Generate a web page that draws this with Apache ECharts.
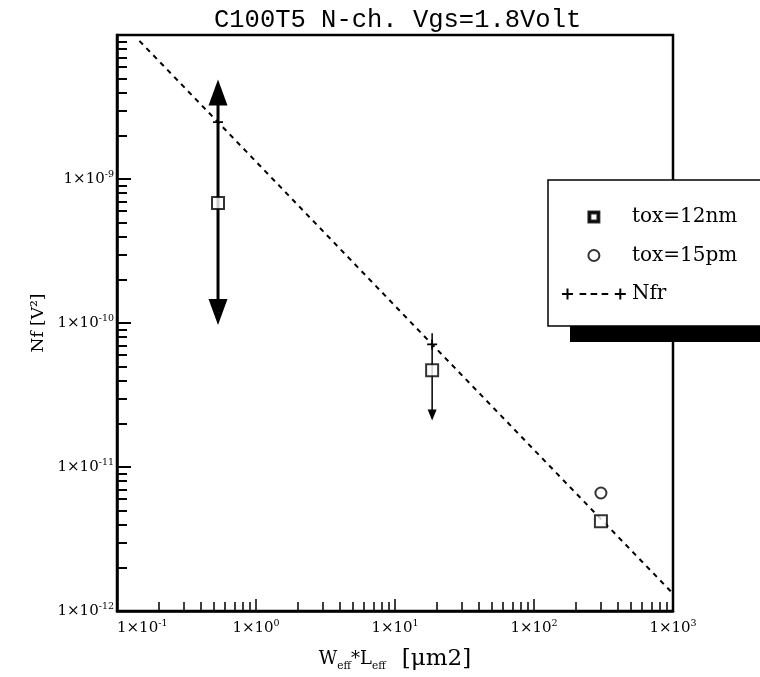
<!DOCTYPE html>
<html>
<head>
<meta charset="utf-8">
<script src="https://cdn.jsdelivr.net/npm/echarts@6/dist/echarts.min.js"></script>
<style>
  html, body { margin: 0; padding: 0; background: #fff; }
  #chart { width: 760px; height: 677px; }
</style>
</head>
<body>
<div id="chart"></div>
<script>
// Axis decades and their labels (mantissa × 10^exponent)
const xTickExp = [-1, 0, 1, 2, 3];
const xTickSup = ['-1', '0', '1', '2', '3'];
const yTickExp = [-12, -11, -10, -9];
const yTickSup = ['-12', '-11', '-10', '-9'];
const tickBase = '1×10';
const mantissas = [2, 3, 4, 5, 6, 7, 8, 9];

// Measured noise, tox = 12 nm
const tox12X = [0.533, 18.5, 303];
const tox12Y = [6.8e-10, 4.7e-11, 4.2e-12];

// Measured noise, tox = 15 nm
const tox15X = [303];
const tox15Y = [6.6e-12];

// Nfr reference line (1/area scaling)
const nfrX = [0.145, 0.533, 18.5, 1000];
const nfrY = [9.1e-9, 2.48e-9, 7.1e-11, 1.32e-12];
const nfrMarked = [false, true, true, false];

// Spread of the measured values (vertical arrows)
const errX = [0.533, 18.5];
const errLow = [9.7e-11, 2.1e-11];
const errHigh = [4.9e-9, 8.5e-11];

// Arrow appearance per spread bar
const arrowStyles = [
  { width: 3, headLen: 26, headHalf: 9.5, headHigh: true, headLow: true },
  { width: 1.5, headLen: 11, headHalf: 4.5, headHigh: false, headLow: true }
];

const serif = 'DejaVu Serif';
const plusPath = 'path://M0,4.1h10v1.8h-10zM4.1,0h1.8v10h-1.8z';
const squareIcon = 'path://M0,0h10v10h-10zM1.8,1.8v6.4h6.4v-6.4z';
const plusDashIcon = 'path://M0,4.1h10v1.8h-10zM4.1,0h1.8v10h-1.8z' +
  'M16,4.1h6v1.8h-6zM26,4.1h6v1.8h-6zM36,4.1h6v1.8h-6z' +
  'M48,4.1h10v1.8h-10zM52.1,0h1.8v10h-1.8z';

function minorTicks(e0, e1) {
  const out = [];
  for (let e = e0; e < e1; e++) {
    for (const m of mantissas) out.push(m * Math.pow(10, e));
  }
  return out;
}

function decadeLabel(exps, sups) {
  return function (v) {
    const e = Math.round(Math.log10(v));
    const k = exps.indexOf(e);
    return k < 0 ? '' : '{b|' + tickBase + '}{s|' + sups[k] + '}';
  };
}

const tickRich = {
  b: { fontFamily: serif, fontSize: 15, color: '#000', lineHeight: 18 },
  s: { fontFamily: serif, fontSize: 9.5, color: '#000', lineHeight: 10, verticalAlign: 'top' }
};

function renderArrow(params, api) {
  const st = arrowStyles[params.dataIndex];
  const x = api.value(0);
  const lo = api.coord([x, api.value(1)]);
  const hi = api.coord([x, api.value(2)]);
  const y1 = st.headHigh ? hi[1] + st.headLen * 0.6 : hi[1];
  const y2 = st.headLow ? lo[1] - st.headLen * 0.6 : lo[1];
  const children = [{
    type: 'line',
    shape: { x1: hi[0], y1: y1, x2: lo[0], y2: y2 },
    style: { stroke: '#000', lineWidth: st.width }
  }];
  if (st.headHigh) {
    children.push({
      type: 'polygon',
      shape: { points: [[hi[0], hi[1]], [hi[0] - st.headHalf, hi[1] + st.headLen], [hi[0] + st.headHalf, hi[1] + st.headLen]] },
      style: { fill: '#000' }
    });
  }
  if (st.headLow) {
    children.push({
      type: 'polygon',
      shape: { points: [[lo[0], lo[1]], [lo[0] - st.headHalf, lo[1] - st.headLen], [lo[0] + st.headHalf, lo[1] - st.headLen]] },
      style: { fill: '#000' }
    });
  }
  return { type: 'group', children: children };
}

const gridBox = { left: 117, right: 87, top: 35, bottom: 66 };

const chart = echarts.init(document.getElementById('chart'), null, { renderer: 'canvas' });
chart.setOption({
  animation: false,
  backgroundColor: '#fff',
  title: {
    text: 'C100T5 N-ch. Vgs=1.8Volt',
    left: 214, top: 7, padding: 0,
    textStyle: { fontFamily: 'Liberation Mono', fontSize: 25.5, fontWeight: 'normal', color: '#000' }
  },
  grid: [
    Object.assign({ show: true, borderColor: '#000', borderWidth: 2.5, backgroundColor: 'transparent' }, gridBox),
    Object.assign({ show: false }, gridBox)
  ],
  xAxis: [{
    type: 'log', logBase: 10, min: 0.1, max: 1000, gridIndex: 0, position: 'bottom',
    name: '{v|W}{s|eff}{v|*L}{s|eff}{g|   }{u|[μm2]}',
    nameLocation: 'middle', nameGap: 35,
    nameTextStyle: {
      rich: {
        v: { fontFamily: serif, fontSize: 18, color: '#000', lineHeight: 26 },
        s: { fontFamily: serif, fontSize: 10.5, color: '#000', lineHeight: 12, verticalAlign: 'bottom' },
        g: { fontFamily: serif, fontSize: 17, lineHeight: 26 },
        u: { fontFamily: serif, fontSize: 23, color: '#000', lineHeight: 26 }
      }
    },
    axisLine: { lineStyle: { color: '#000', width: 2.5 } },
    axisTick: { inside: true, length: 12, lineStyle: { color: '#000', width: 1.5 } },
    axisLabel: {
      formatter: decadeLabel(xTickExp, xTickSup), margin: 8, rich: tickRich,
      showMinLabel: true, showMaxLabel: true, alignMinLabel: 'left'
    },
    splitLine: { show: false }
  }, {
    type: 'log', logBase: 10, min: 0.1, max: 1000, gridIndex: 1, position: 'bottom',
    axisLine: { show: false },
    axisTick: { inside: true, length: 9, customValues: minorTicks(-1, 3), lineStyle: { color: '#000', width: 1.5 } },
    axisLabel: { show: false },
    splitLine: { show: false }
  }],
  yAxis: [{
    type: 'log', logBase: 10, min: 1e-12, max: 1e-8, gridIndex: 0, position: 'left',
    name: 'Nf [V²]', nameLocation: 'middle', nameGap: 63, nameRotate: 90,
    nameTextStyle: { fontFamily: serif, fontSize: 17, color: '#000' },
    axisLine: { lineStyle: { color: '#000', width: 2.5 } },
    axisTick: { inside: true, length: 14, lineStyle: { color: '#000', width: 2 } },
    axisLabel: {
      formatter: decadeLabel(yTickExp, yTickSup), margin: 3, rich: tickRich
    },
    splitLine: { show: false }
  }, {
    type: 'log', logBase: 10, min: 1e-12, max: 1e-8, gridIndex: 1, position: 'left',
    axisLine: { show: false },
    axisTick: { inside: true, length: 10, customValues: minorTicks(-12, -8), lineStyle: { color: '#000', width: 2 } },
    axisLabel: { show: false },
    splitLine: { show: false }
  }],
  legend: {
    orient: 'vertical', left: 548, top: 180,
    padding: [27, 60, 22, 14], itemGap: 18.5, itemWidth: 64, itemHeight: 11,
    backgroundColor: '#fff', borderColor: '#000', borderWidth: 1.5,
    textStyle: { fontFamily: serif, fontSize: 20, color: '#000', padding: [0, 0, 0, 1] },
    selectedMode: false, z: 5, symbolKeepAspect: true,
    data: [
      { name: 'tox=12nm', icon: squareIcon },
      { name: 'tox=15pm', icon: 'emptyCircle' },
      { name: 'Nfr', icon: plusDashIcon }
    ]
  },
  graphic: [{
    type: 'rect', z: 4,
    shape: { x: 570, y: 200, width: 200, height: 142 },
    style: { fill: '#000' }
  }],
  series: [{
    name: 'spread', type: 'custom', xAxisIndex: 0, yAxisIndex: 0, z: 2,
    renderItem: renderArrow,
    encode: { x: 0, y: [1, 2] },
    data: errX.map((x, i) => [x, errLow[i], errHigh[i]])
  }, {
    name: 'Nfr', type: 'line', xAxisIndex: 0, yAxisIndex: 0, z: 3,
    color: '#000',
    lineStyle: { color: '#000', width: 2, type: [5, 5] },
    itemStyle: { color: '#000' },
    symbolSize: 10,
    data: nfrX.map((x, i) => ({ value: [x, nfrY[i]], symbol: nfrMarked[i] ? plusPath : 'none' }))
  }, {
    name: 'tox=12nm', type: 'scatter', xAxisIndex: 0, yAxisIndex: 0, z: 4,
    symbol: 'emptyRect', symbolSize: 12,
    itemStyle: { color: '#000', borderColor: '#000', borderWidth: 2 },
    data: tox12X.map((x, i) => [x, tox12Y[i]])
  }, {
    name: 'tox=15pm', type: 'scatter', xAxisIndex: 0, yAxisIndex: 0, z: 4,
    symbol: 'emptyCircle', symbolSize: 11,
    itemStyle: { color: '#000', borderColor: '#000', borderWidth: 2 },
    data: tox15X.map((x, i) => [x, tox15Y[i]])
  }]
});
</script>
</body>
</html>
